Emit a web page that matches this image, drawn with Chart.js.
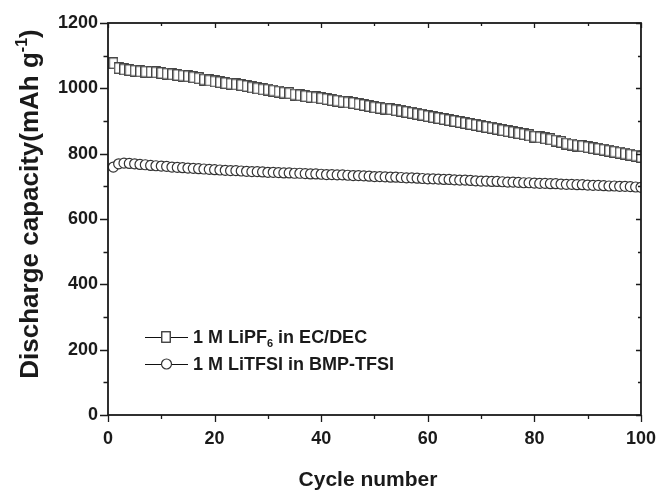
<!DOCTYPE html>
<html>
<head>
<meta charset="utf-8">
<script src="https://cdn.jsdelivr.net/npm/chart.js@4"></script>
<style>
  html, body { margin: 0; padding: 0; background: #fff; }
  #wrap { width: 661px; height: 491px; }
</style>
</head>
<body>
<div id="wrap"><canvas id="chartCap"></canvas></div>
<script>
const cycles = [1, 2, 3, 4, 5, 6, 7, 8, 9, 10,
    11, 12, 13, 14, 15, 16, 17, 18, 19, 20,
    21, 22, 23, 24, 25, 26, 27, 28, 29, 30,
    31, 32, 33, 34, 35, 36, 37, 38, 39, 40,
    41, 42, 43, 44, 45, 46, 47, 48, 49, 50,
    51, 52, 53, 54, 55, 56, 57, 58, 59, 60,
    61, 62, 63, 64, 65, 66, 67, 68, 69, 70,
    71, 72, 73, 74, 75, 76, 77, 78, 79, 80,
    81, 82, 83, 84, 85, 86, 87, 88, 89, 90,
    91, 92, 93, 94, 95, 96, 97, 98, 99, 100];

// 1 M LiPF6 in EC/DEC (squares)
const capLiPF6 = [1077, 1062, 1058, 1056, 1054, 1052, 1051, 1050, 1049, 1047,
    1045, 1043, 1041, 1039, 1037, 1034, 1031, 1027, 1024, 1021,
    1019, 1016, 1014, 1012, 1010, 1007, 1003, 1000, 997, 996,
    993, 990, 987, 985, 981, 979, 976, 974, 972, 970,
    967, 964, 962, 959, 957, 955, 952, 949, 946, 942,
    940, 938, 936, 933, 931, 928, 925, 922, 919, 915,
    912, 909, 906, 903, 900, 897, 894, 891, 888, 885,
    882, 879, 876, 872, 869, 866, 863, 860, 856, 852,
    850, 847, 844, 840, 836, 831, 828, 825, 823, 820,
    817, 815, 812, 809, 806, 803, 800, 797, 794, 790];

// 1 M LiTFSI in BMP-TFSI (circles)
const capLiTFSI = [759, 769, 771, 770, 769, 767, 766, 764, 763, 762,
    761, 759, 758, 757, 756, 755, 754, 753, 752, 751,
    750, 749, 748, 748, 747, 746, 745, 745, 744, 743,
    743, 742, 741, 741, 740, 740, 739, 738, 738, 737,
    736, 736, 735, 735, 734, 733, 733, 732, 731, 730,
    730, 729, 728, 728, 727, 726, 726, 725, 724, 723,
    723, 722, 721, 721, 720, 719, 719, 718, 717, 716,
    716, 715, 715, 714, 713, 713, 712, 711, 711, 710,
    709, 709, 708, 708, 707, 706, 706, 705, 705, 704,
    703, 703, 702, 701, 701, 700, 700, 699, 698, 697];

const seriesLabels = ["1 M LiPF₆ in EC/DEC", "1 M LiTFSI in BMP-TFSI"];
const xTitle = "Cycle number";
const yTitle = "Discharge capacity(mAh g⁻¹)";

const FONT = 'Arial, "Liberation Sans", sans-serif';
const INK = "#1a1a1a";

function toPoints(values) {
    return cycles.map((c, i) => ({ x: c, y: values[i] }));
}

// open square marker, a little taller than wide like the original
function squareMarker() {
    const c = document.createElement("canvas");
    c.width = 10; c.height = 12;
    const g = c.getContext("2d");
    g.fillStyle = "#fff";
    g.fillRect(0, 0, 10, 12);
    g.strokeStyle = "#333";
    g.lineWidth = 1.3;
    g.strokeRect(0.75, 0.75, 8.5, 10.5);
    return c;
}

// draws text where ₆ style chars become subscript and ⁻¹ style chars superscript
function drawRich(ctx, text, x, y, size, align) {
    const subs = "₀₁₂₃₄₅₆₇₈₉", sups = "⁰¹²³⁴⁵⁶⁷⁸⁹";
    const runs = [];
    for (const ch of text) {
        let kind = "n", c = ch;
        if (subs.indexOf(ch) >= 0) { kind = "sub"; c = String(subs.indexOf(ch)); }
        else if (sups.indexOf(ch) >= 0) { kind = "sup"; c = String(sups.indexOf(ch)); }
        else if (ch === "⁻") { kind = "sup"; c = "-"; }
        const last = runs[runs.length - 1];
        if (last && last.kind === kind) last.t += c; else runs.push({ kind: kind, t: c });
    }
    const small = Math.round(size * 0.62);
    let total = 0;
    runs.forEach(r => {
        ctx.font = "bold " + (r.kind === "n" ? size : small) + "px " + FONT;
        r.w = ctx.measureText(r.t).width;
        total += r.w;
    });
    let cx = align === "center" ? x - total / 2 : x;
    ctx.textAlign = "left";
    runs.forEach(r => {
        ctx.font = "bold " + (r.kind === "n" ? size : small) + "px " + FONT;
        let dy = 0;
        if (r.kind === "sub") dy = size * 0.32;
        if (r.kind === "sup") dy = -size * 0.42;
        ctx.fillText(r.t, cx, y + dy);
        cx += r.w;
    });
}

const framePlugin = {
    id: "frame",
    afterDraw(chart) {
        const ctx = chart.ctx;
        const a = chart.chartArea;
        const x = chart.scales.x, y = chart.scales.y;
        ctx.save();
        ctx.strokeStyle = "#1a1a1a";
        ctx.lineWidth = 1.8;
        ctx.strokeRect(a.left, a.top, a.right - a.left, a.bottom - a.top);

        ctx.lineWidth = 1.3;
        ctx.beginPath();
        for (let v = 0; v <= 1200; v += 100) {
            const py = Math.round(y.getPixelForValue(v)) + 0.5;
            const major = v % 200 === 0;
            ctx.moveTo(a.left, py); ctx.lineTo(a.left - (major ? 8 : 4.5), py);
            ctx.moveTo(a.right, py); ctx.lineTo(a.right - (major ? 5 : 3), py);
        }
        for (let v = 0; v <= 100; v += 10) {
            const px = Math.round(x.getPixelForValue(v)) + 0.5;
            const major = v % 20 === 0;
            ctx.moveTo(px, a.bottom); ctx.lineTo(px, a.bottom + (major ? 7 : 4));
            ctx.moveTo(px, a.top); ctx.lineTo(px, a.top + (major ? 5 : 3));
        }
        ctx.stroke();

        // legend
        const rows = [337, 364];
        chart.data.datasets.forEach((ds, i) => {
            const ly = rows[i];
            ctx.strokeStyle = "#111";
            ctx.lineWidth = 1;
            ctx.beginPath();
            ctx.moveTo(145, ly + 0.5); ctx.lineTo(188, ly + 0.5);
            ctx.stroke();
            if (i === 0) {
                ctx.drawImage(ds.pointStyle, 161, ly - 6);
            } else {
                ctx.fillStyle = "#fff";
                ctx.strokeStyle = ds.pointBorderColor;
                ctx.lineWidth = ds.pointBorderWidth;
                ctx.beginPath();
                ctx.arc(166.5, ly, 5, 0, Math.PI * 2);
                ctx.fill();
                ctx.stroke();
            }
            ctx.fillStyle = INK;
            ctx.textBaseline = "middle";
            drawRich(ctx, ds.label, 193, ly + 1, 18, "left");
        });

        // axis titles
        ctx.fillStyle = INK;
        ctx.textBaseline = "alphabetic";
        drawRich(ctx, xTitle, 368, 486, 21, "center");
        ctx.translate(38, 204);
        ctx.rotate(-Math.PI / 2);
        drawRich(ctx, yTitle, 0, 0, 26, "center");
        ctx.restore();
    }
};

new Chart(document.getElementById("chartCap"), {
    type: "line",
    data: {
        datasets: [{
            label: seriesLabels[0],
            data: toPoints(capLiPF6),
            borderColor: "#111",
            borderWidth: 1,
            pointStyle: squareMarker(),
            pointRadius: 5
        }, {
            label: seriesLabels[1],
            data: toPoints(capLiTFSI),
            borderColor: "#111",
            borderWidth: 1,
            pointStyle: "circle",
            pointRadius: 5,
            pointBackgroundColor: "#fff",
            pointBorderColor: "#333",
            pointBorderWidth: 1.2
        }]
    },
    options: {
        responsive: true,
        maintainAspectRatio: false,
        animation: false,
        layout: { padding: { top: 23, right: 11, left: 0, bottom: 0 } },
        plugins: { legend: { display: false }, tooltip: { enabled: false } },
        scales: {
            x: {
                type: "linear",
                min: 0,
                max: 100,
                grid: { display: false },
                border: { display: false },
                ticks: {
                    stepSize: 20,
                    maxRotation: 0,
                    padding: 5,
                    color: INK,
                    font: { family: FONT, size: 18, weight: "bold" },
                    callback: v => String(v)
                },
                afterFit: s => { s.height = 76; }
            },
            y: {
                min: 0,
                max: 1200,
                grid: { display: false },
                border: { display: false },
                ticks: {
                    stepSize: 200,
                    padding: 2,
                    color: INK,
                    font: { family: FONT, size: 18, weight: "bold" },
                    callback: v => String(v)
                },
                afterFit: s => { s.width = 108; }
            }
        }
    },
    plugins: [framePlugin]
});
</script>
</body>
</html>
